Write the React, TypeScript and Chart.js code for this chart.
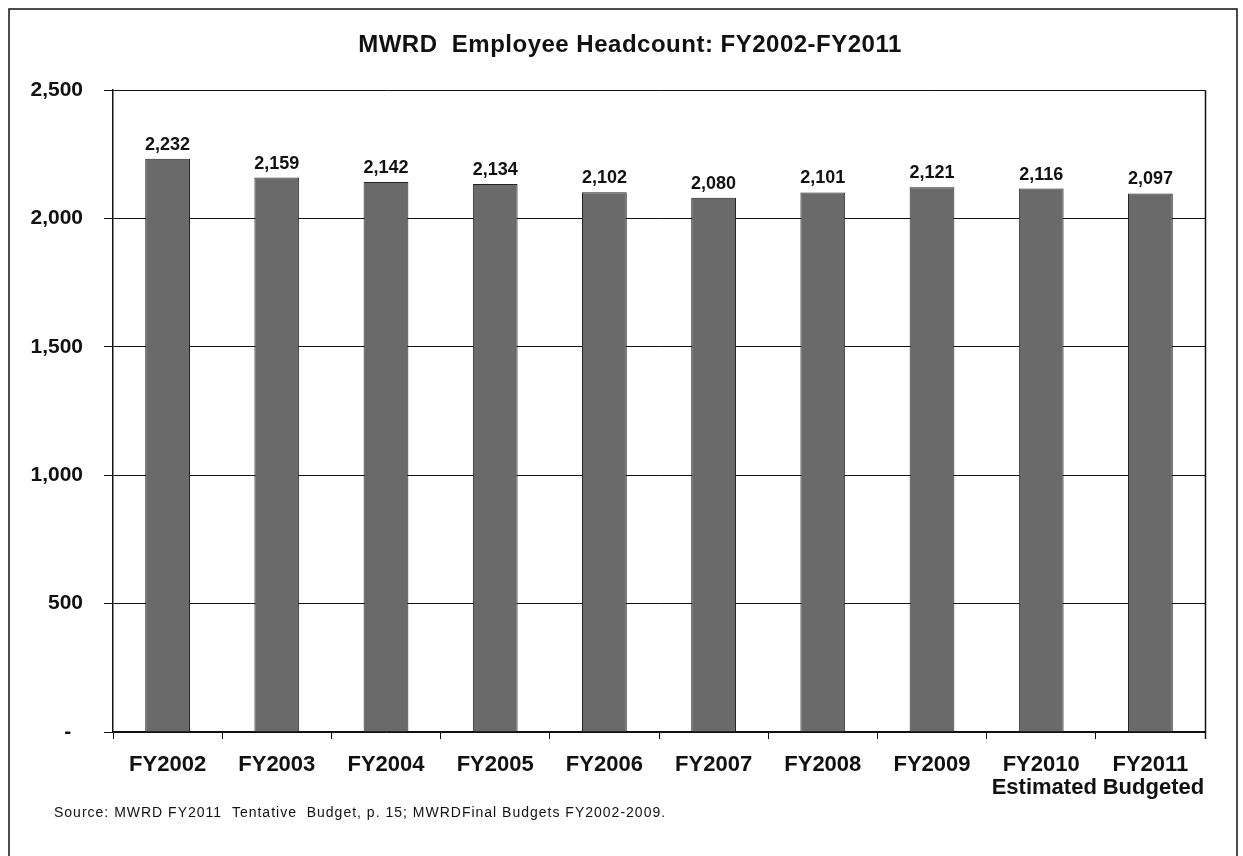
import React, { useEffect, useRef } from "react";
import { Chart, registerables } from "chart.js";

Chart.register(...registerables);

const title = "MWRD  Employee Headcount: FY2002-FY2011";
const sourceNote = "Source: MWRD FY2011  Tentative  Budget, p. 15; MWRDFinal Budgets FY2002-2009.";
const categories: (string | string[])[] = [
  "FY2002", "FY2003", "FY2004", "FY2005", "FY2006",
  "FY2007", "FY2008", "FY2009", ["FY2010", " Estimated"], ["FY2011", " Budgeted"],
];
const headcount = [2232, 2159, 2142, 2134, 2102, 2080, 2101, 2121, 2116, 2097];
const yMin = 0;
const yMax = 2500;
const yStep = 500;

const FONT = "'Liberation Sans', Arial, Helvetica, sans-serif";

const fmt = (v: number) => v.toLocaleString("en-US");
const fmtTick = (v: number) => (v === 0 ? "-  " : v.toLocaleString("en-US"));

const decorPlugin = {
  id: "decor",
  afterDatasetsDraw(chart: any) {
    const ctx = chart.ctx as CanvasRenderingContext2D;
    const meta = chart.getDatasetMeta(0);
    ctx.save();
    ctx.fillStyle = "#111";
    ctx.font = `bold 18px ${FONT}`;
    ctx.textAlign = "center";
    ctx.textBaseline = "alphabetic";
    meta.data.forEach((bar: any, i: number) => {
      ctx.fillText(fmt(headcount[i]), bar.x, bar.y - 9);
    });
    ctx.restore();
  },
  afterDraw(chart: any) {
    const ctx = chart.ctx as any;
    const a = chart.chartArea;
    ctx.save();
    ctx.strokeStyle = "#111";
    ctx.lineWidth = 1.5;
    ctx.beginPath();
    ctx.moveTo(Math.round(a.right) + 0.5, a.top);
    ctx.lineTo(Math.round(a.right) + 0.5, a.bottom + 7);
    ctx.stroke();
    // outer frame (left, top, right)
    ctx.beginPath();
    ctx.moveTo(9, 860);
    ctx.lineTo(9, 9);
    ctx.lineTo(1237, 9);
    ctx.lineTo(1237, 860);
    ctx.stroke();
    // title
    ctx.fillStyle = "#111";
    ctx.font = `bold 24px ${FONT}`;
    ctx.letterSpacing = "0.5px";
    ctx.textAlign = "center";
    ctx.textBaseline = "alphabetic";
    ctx.fillText(title, 630, 52);
    // source note
    ctx.font = `14px ${FONT}`;
    ctx.letterSpacing = "1px";
    ctx.textAlign = "left";
    ctx.textBaseline = "middle";
    ctx.fillText(sourceNote, 54, 813);
    ctx.restore();
  },
};

export default function App() {
  const ref = useRef<HTMLCanvasElement | null>(null);
  useEffect(() => {
    document.body.style.margin = "0";
    const canvas = ref.current;
    if (!canvas) return;
    const chart = new Chart(canvas, {
      type: "bar",
      data: {
        labels: categories,
        datasets: [
          {
            data: headcount,
            backgroundColor: "#6a6a6a",
            borderColor: "#222",
            borderWidth: 1,
            barPercentage: 0.41,
            categoryPercentage: 1,
          },
        ],
      },
      options: {
        animation: false,
        responsive: false,
        maintainAspectRatio: false,
        layout: { padding: { top: 90, right: 38, bottom: 44, left: 0 } },
        plugins: {
          legend: { display: false },
          tooltip: { enabled: false },
          title: { display: false },
        },
        scales: {
          x: {
            afterFit: (s: any) => { s.height = 80; },
            grid: { drawOnChartArea: false, drawTicks: true, tickLength: 7, color: "#111", offset: true },
            border: { display: true, color: "#111", width: 1.5 },
            ticks: {
              color: "#111",
              padding: 14,
              maxRotation: 0,
              autoSkip: false,
              font: { family: FONT, size: 22, weight: "bold", lineHeight: 1.05 },
            },
          },
          y: {
            min: yMin,
            max: yMax,
            afterFit: (s: any) => { s.width = 113; },
            grid: { color: "#111", lineWidth: 1, tickLength: 9, drawTicks: true },
            border: { display: true, color: "#111", width: 1.5 },
            ticks: {
              stepSize: yStep,
              color: "#111",
              padding: 21,
              callback: (v: any) => fmtTick(Number(v)),
              font: { family: FONT, size: 21, weight: "bold" },
            },
          },
        },
      },
      plugins: [decorPlugin],
    } as any);
    return () => chart.destroy();
  }, []);
  return (
    <div style={{ width: 1243, height: 856, background: "#fff" }}>
      <canvas ref={ref} width={1243} height={856} style={{ display: "block", width: 1243, height: 856 }} />
    </div>
  );
}
